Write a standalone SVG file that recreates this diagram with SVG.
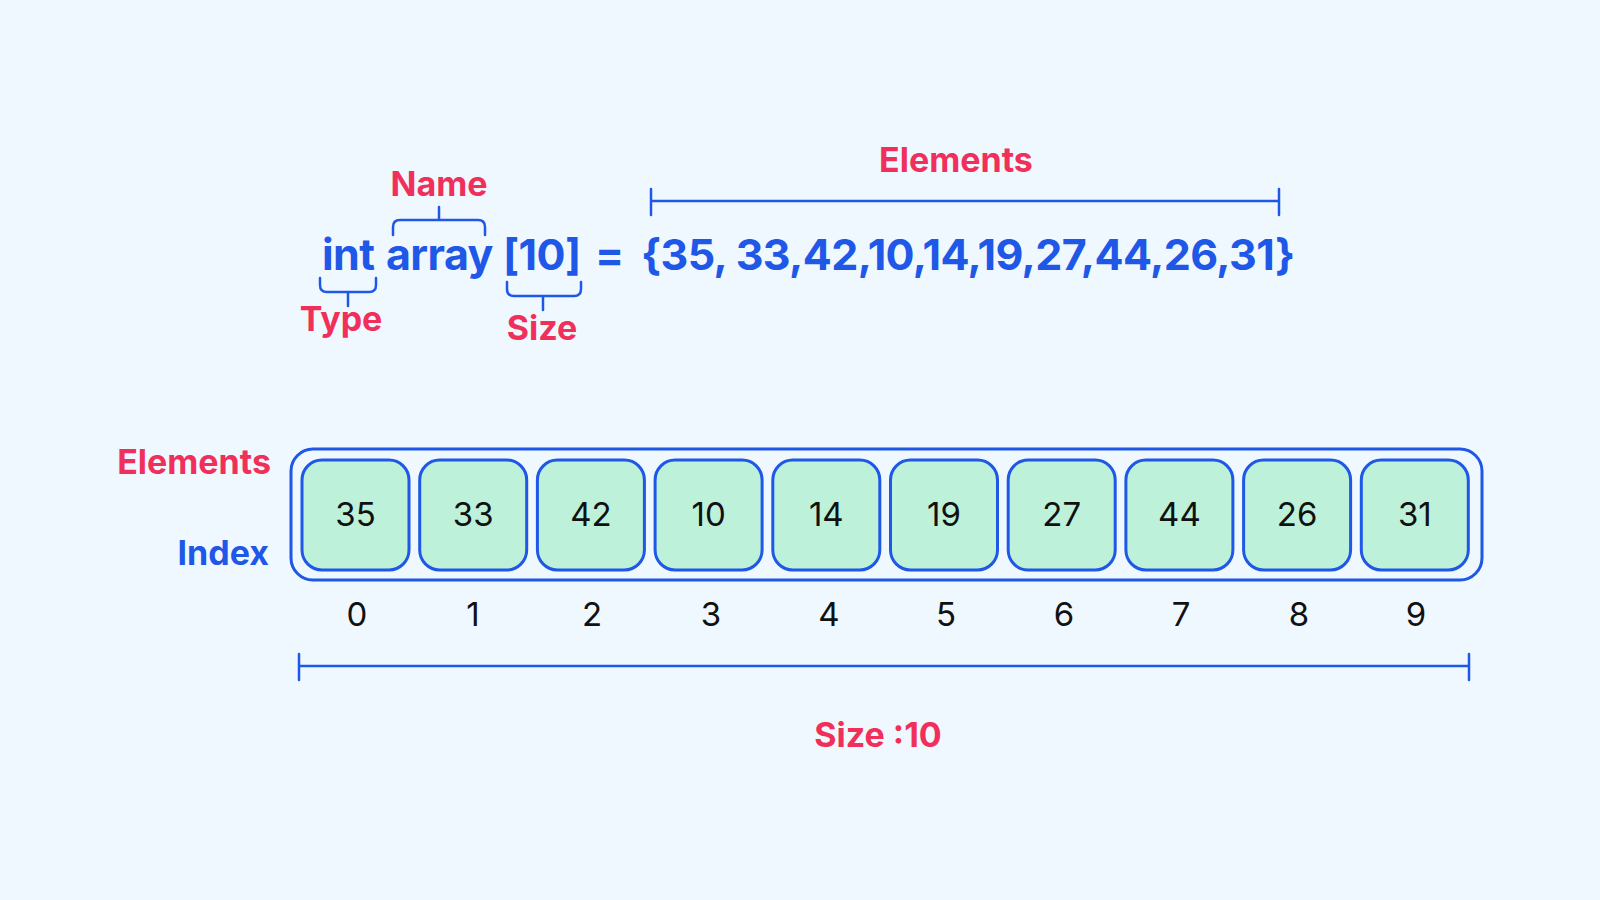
<svg xmlns="http://www.w3.org/2000/svg" width="1600" height="900" viewBox="0 0 1600 900">
<style>
.lbl{font-family:Inter,"Liberation Sans",sans-serif;font-weight:700;font-size:34px;fill:#f0305a}
.code{font-family:Inter,"Liberation Sans",sans-serif;font-weight:700;font-size:43px;letter-spacing:-0.6px;fill:#1f57e6}
.blue{font-family:Inter,"Liberation Sans",sans-serif;font-weight:700;font-size:34px;fill:#1f57e6}
.num{font-family:Inter,"Liberation Sans",sans-serif;font-weight:400;font-size:33px;fill:#111}
.br{fill:none;stroke:#1f57e6;stroke-width:2.5;stroke-linecap:round;stroke-linejoin:round}
.cell{fill:#bdf1da;stroke:#1f57e6;stroke-width:3}
</style>
<rect width="1600" height="900" fill="#eff7ff"/>
<g id="declaration">
<text class="code" x="322" y="270">int</text>
<text class="code" x="386" y="270">array</text>
<text class="code" x="503" y="270">[10]</text>
<text class="code" x="595" y="270">=</text>
<text class="code" x="641" y="270">{35, 33,42,10,14,19,27,44,26,31}</text>
</g>
<g id="name-label">
<text class="lbl" x="439" y="196" text-anchor="middle">Name</text>
<path class="br" d="M393,235 v-8 q0,-7 7,-7 h78 q7,0 7,7 v8 M439,220 v-13"/>
</g>
<g id="type-label">
<text class="lbl" x="341" y="331" text-anchor="middle">Type</text>
<path class="br" d="M320,278 v7 q0,7 7,7 h42 q7,0 7,-7 v-7 M348,292 v14"/>
</g>
<g id="size-label">
<text class="lbl" x="542" y="340" text-anchor="middle">Size</text>
<path class="br" d="M507,282 v7 q0,7 7,7 h60 q7,0 7,-7 v-7 M543,296 v14"/>
</g>
<g id="elements-top">
<text class="lbl" x="956" y="172" text-anchor="middle">Elements</text>
<path class="br" d="M651,189 v26 M651,201 H1279 M1279,189 v26"/>
</g>
<g id="row-labels">
<text class="lbl" x="271" y="474" text-anchor="end">Elements</text>
<text class="blue" x="269" y="565" text-anchor="end">Index</text>
</g>
<g id="array">
<rect x="291" y="449" width="1191" height="131" rx="22" fill="none" stroke="#1f57e6" stroke-width="3"/>
</g>
<g id="cells">
<g id="c0"><rect class="cell" x="302" y="460" width="107" height="110" rx="20"/><text class="num" x="355.5" y="526" text-anchor="middle">35</text></g>
<g id="c1"><rect class="cell" x="419.7" y="460" width="107" height="110" rx="20"/><text class="num" x="473.2" y="526" text-anchor="middle">33</text></g>
<g id="c2"><rect class="cell" x="537.4" y="460" width="107" height="110" rx="20"/><text class="num" x="590.9" y="526" text-anchor="middle">42</text></g>
<g id="c3"><rect class="cell" x="655.1" y="460" width="107" height="110" rx="20"/><text class="num" x="708.6" y="526" text-anchor="middle">10</text></g>
<g id="c4"><rect class="cell" x="772.8" y="460" width="107" height="110" rx="20"/><text class="num" x="826.3" y="526" text-anchor="middle">14</text></g>
<g id="c5"><rect class="cell" x="890.5" y="460" width="107" height="110" rx="20"/><text class="num" x="944" y="526" text-anchor="middle">19</text></g>
<g id="c6"><rect class="cell" x="1008.2" y="460" width="107" height="110" rx="20"/><text class="num" x="1061.7" y="526" text-anchor="middle">27</text></g>
<g id="c7"><rect class="cell" x="1125.9" y="460" width="107" height="110" rx="20"/><text class="num" x="1179.4" y="526" text-anchor="middle">44</text></g>
<g id="c8"><rect class="cell" x="1243.6" y="460" width="107" height="110" rx="20"/><text class="num" x="1297.1" y="526" text-anchor="middle">26</text></g>
<g id="c9"><rect class="cell" x="1361.3" y="460" width="107" height="110" rx="20"/><text class="num" x="1414.8" y="526" text-anchor="middle">31</text></g>
</g>
<g id="indices">
<text class="num" x="357" y="626" text-anchor="middle">0</text>
<text class="num" x="473" y="626" text-anchor="middle">1</text>
<text class="num" x="592" y="626" text-anchor="middle">2</text>
<text class="num" x="711" y="626" text-anchor="middle">3</text>
<text class="num" x="829" y="626" text-anchor="middle">4</text>
<text class="num" x="946" y="626" text-anchor="middle">5</text>
<text class="num" x="1064" y="626" text-anchor="middle">6</text>
<text class="num" x="1181" y="626" text-anchor="middle">7</text>
<text class="num" x="1299" y="626" text-anchor="middle">8</text>
<text class="num" x="1416" y="626" text-anchor="middle">9</text>
</g>
<g id="size-bar">
<path class="br" d="M299,654 v26 M299,666 H1469 M1469,654 v26"/>
<text class="lbl" x="878" y="747" text-anchor="middle">Size :10</text>
</g>
</svg>
